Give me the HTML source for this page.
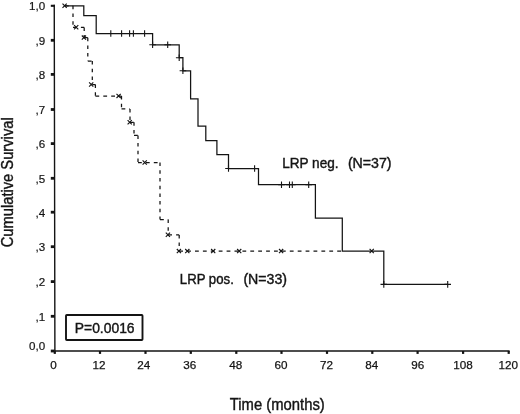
<!DOCTYPE html>
<html><head><meta charset="utf-8"><title>Kaplan-Meier</title>
<style>html,body{margin:0;padding:0;background:#fff;}svg{display:block;}text{font-family:"Liberation Sans",sans-serif;fill:#141414;}svg{will-change:transform;opacity:0.999;}</style>
</head><body>
<svg width="520" height="414" viewBox="0 0 520 414">
<rect x="0" y="0" width="520" height="414" fill="#ffffff"/>
<g stroke="#141414" fill="none" stroke-width="1.40">
<path d="M54.25,4.8 L54.9,351.0 H509.6"/>
</g>
<g fill="#141414">
<rect x="50.8" y="4.75" width="4.0" height="2.1" />
<rect x="50.8" y="38.90" width="4.0" height="2.8" />
<rect x="50.8" y="73.00" width="4.0" height="2.8" />
<rect x="50.8" y="108.10" width="4.0" height="2.8" />
<rect x="50.8" y="142.20" width="4.0" height="2.8" />
<rect x="50.8" y="176.90" width="4.0" height="2.8" />
<rect x="50.8" y="210.80" width="4.0" height="2.8" />
<rect x="50.8" y="245.30" width="4.0" height="2.8" />
<rect x="50.8" y="280.20" width="4.0" height="2.8" />
<rect x="50.8" y="314.90" width="4.0" height="2.8" />
<rect x="50.8" y="349.60" width="4.0" height="2.8" />
<rect x="53.7" y="351" width="2.2" height="2.9" />
<rect x="98.9" y="351" width="2.2" height="2.9" />
<rect x="144.4" y="351" width="2.2" height="2.9" />
<rect x="189.7" y="351" width="2.2" height="2.9" />
<rect x="235.2" y="351" width="2.2" height="2.9" />
<rect x="280.4" y="351" width="2.2" height="2.9" />
<rect x="325.9" y="351" width="2.2" height="2.9" />
<rect x="371.2" y="351" width="2.2" height="2.9" />
<rect x="416.5" y="351" width="2.2" height="2.9" />
<rect x="462.0" y="351" width="2.2" height="2.9" />
<rect x="507.6" y="351" width="2.2" height="2.9" />
</g>
<g font-size="11.6" text-anchor="end" stroke="#141414" stroke-width="0.2">
<text x="45.1" y="10.2">1,0</text>
<text x="45.1" y="44.7">,9</text>
<text x="45.1" y="78.8">,8</text>
<text x="45.1" y="113.9">,7</text>
<text x="45.1" y="148.0">,6</text>
<text x="45.1" y="182.7">,5</text>
<text x="45.1" y="216.6">,4</text>
<text x="45.1" y="251.1">,3</text>
<text x="45.1" y="286.0">,2</text>
<text x="45.1" y="320.7">,1</text>
<text x="45.1" y="349.9">0,0</text>
</g>
<g font-size="11.7" text-anchor="middle" stroke="#141414" stroke-width="0.25">
<text x="53.5" y="369.2">0</text>
<text x="99.1" y="369.2">12</text>
<text x="143.7" y="369.2">24</text>
<text x="189.8" y="369.2">36</text>
<text x="235.8" y="369.2">48</text>
<text x="281.0" y="369.2">60</text>
<text x="326.5" y="369.2">72</text>
<text x="371.8" y="369.2">84</text>
<text x="417.7" y="369.2">96</text>
<text x="463.0" y="369.2">108</text>
<text x="508.2" y="369.2">120</text>
</g>
<path d="M64.9,5.8H73.0M73.0,27.4H84.2M84.2,37.7H87.8M87.8,61.0H92.3M92.3,84.6H95.4M95.4,96.0H121.5M121.5,108.9H130.0M130.0,122.3H134.0M134.0,135.4H138.0M138.0,162.6H160.0M160.0,219.5H168.2M168.2,234.9H179.2M179.2,251.2H342.3" fill="none" stroke="#141414" stroke-width="1.25" stroke-dasharray="3.8 4.1"/>
<path d="M73.0,5.8V27.4M84.2,27.4V37.7M87.8,37.7V61.0M92.3,61.0V84.6M95.4,84.6V96.0M121.5,96.0V108.9M130.0,108.9V122.3M134.0,122.3V135.4M138.0,135.4V162.6M160.0,162.6V219.5M168.2,219.5V234.9M179.2,234.9V251.2" fill="none" stroke="#141414" stroke-width="1.25" stroke-dasharray="3.5 4.2"/>
<path d="M64.9,5.8 H83.8 V15.5 H96.2 V33.5 H152.6 V44.8 H179.2 V57.7 H182.9 V70.8 H190.6 V98.8 H198 V126 H205.8 V140.5 H216.9 V154.6 H228.5 V168.5 H258.5 V184.7 H315.4 V218 H342.3 V251 H383.8 V284.4 H447.7" fill="none" stroke="#141414" stroke-width="1.25" stroke-linejoin="miter"/>
<path d="M110.8,30.2v6.6M107.5,33.5h6.6M121.6,30.2v6.6M118.3,33.5h6.6M129.6,30.2v6.6M126.3,33.5h6.6M133.4,30.2v6.6M130.1,33.5h6.6M144.6,30.2v6.6M141.3,33.5h6.6M152.6,41.5v6.6M149.3,44.8h6.6M167.7,41.5v6.6M164.4,44.8h6.6M179.2,54.4v6.6M175.9,57.7h6.6M182.9,67.5v6.6M179.6,70.8h6.6M228.5,165.2v6.6M225.2,168.5h6.6M254.6,165.2v6.6M251.3,168.5h6.6M281.5,181.4v6.6M278.2,184.7h6.6M289.5,181.4v6.6M286.2,184.7h6.6M292.3,181.4v6.6M289.0,184.7h6.6M308.7,181.4v6.6M305.4,184.7h6.6M383.8,281.1v6.6M380.5,284.4h6.6M447.7,281.1v6.6M444.4,284.4h6.6" fill="none" stroke="#141414" stroke-width="1.1"/>
<path d="M62.5,3.6l4.2,4.2M62.5,7.8l4.2,-4.2M74.1,25.2l4.2,4.2M74.1,29.4l4.2,-4.2M81.8,35.5l4.2,4.2M81.8,39.7l4.2,-4.2M89.1,82.4l4.2,4.2M89.1,86.6l4.2,-4.2M116.5,93.8l4.2,4.2M116.5,98.0l4.2,-4.2M127.6,120.1l4.2,4.2M127.6,124.3l4.2,-4.2M142.6,160.4l4.2,4.2M142.6,164.6l4.2,-4.2M165.8,232.7l4.2,4.2M165.8,236.9l4.2,-4.2M176.8,249.0l4.2,4.2M176.8,253.2l4.2,-4.2M185.2,249.0l4.2,4.2M185.2,253.2l4.2,-4.2M211.1,249.0l4.2,4.2M211.1,253.2l4.2,-4.2M237.1,249.0l4.2,4.2M237.1,253.2l4.2,-4.2M279.0,249.0l4.2,4.2M279.0,253.2l4.2,-4.2M369.6,248.9l4.2,4.2M369.6,253.1l4.2,-4.2" fill="none" stroke="#141414" stroke-width="1.15"/>
<g font-size="13.9" stroke="#141414" stroke-width="0.4">
<text x="282.2" y="167.6" textLength="56.3" lengthAdjust="spacingAndGlyphs">LRP neg.</text>
<text x="347.9" y="167.6" textLength="43.7" lengthAdjust="spacingAndGlyphs">(N=37)</text>
<text x="179.8" y="284.1" textLength="54.0" lengthAdjust="spacingAndGlyphs">LRP pos.</text>
<text x="243.4" y="284.1" textLength="43.7" lengthAdjust="spacingAndGlyphs">(N=33)</text>
</g>
<rect x="66.0" y="315.0" width="76.5" height="25.0" rx="0.8" fill="#fff" stroke="#141414" stroke-width="1.9"/>
<text x="74.8" y="332.6" font-size="14.2" stroke="#141414" stroke-width="0.4" textLength="59.8" lengthAdjust="spacingAndGlyphs">P=0.0016</text>
<text x="229.8" y="409.5" font-size="15.9" stroke="#141414" stroke-width="0.4" textLength="95.0" lengthAdjust="spacingAndGlyphs">Time (months)</text>
<text transform="translate(12.5,247.3) rotate(-90)" font-size="15.7" stroke="#141414" stroke-width="0.4" textLength="130" lengthAdjust="spacingAndGlyphs">Cumulative Survival</text>
</svg>
</body></html>
